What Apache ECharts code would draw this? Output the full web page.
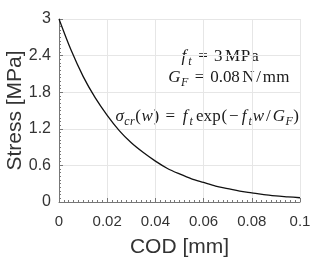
<!DOCTYPE html>
<html><head><meta charset="utf-8">
<script src="https://cdn.jsdelivr.net/npm/echarts@6/dist/echarts.min.js"></script>
<style>html,body{margin:0;padding:0;background:#fff}#c{width:332px;height:257px}</style>
</head><body><div id="c"></div>
<script>
const codValues = [0, 0.005, 0.01, 0.015, 0.02, 0.025, 0.03, 0.035, 0.04, 0.045, 0.05, 0.055, 0.06, 0.065, 0.07, 0.075, 0.08, 0.085, 0.09, 0.095, 0.1];
const stressValues = [3.0, 2.49, 2.06, 1.71, 1.42, 1.17, 0.97, 0.81, 0.67, 0.55, 0.46, 0.38, 0.32, 0.26, 0.22, 0.18, 0.15, 0.12, 0.10, 0.085, 0.07];
const xTicks = [0, 0.02, 0.04, 0.06, 0.08, 0.1];
const yTicks = [0, 0.6, 1.2, 1.8, 2.4, 3];
const xName = 'COD [mm]';
const yName = 'Stress [MPa]';

const serif = '"Liberation Serif", "DejaVu Serif", serif';
// advance widths (em) in the style of TeX math fonts
const adv = {f: 0.47, t: 0.40, G: 0.79, F: 0.68, 'σ': 0.58, c: 0.45, r: 0.47, w: 0.72, '(': 0.39, ')': 0.39,
  '=': 0.78, '−': 0.78, '/': 0.5, '3': 0.5, '0': 0.5, '8': 0.5, '.': 0.28, M: 0.92, P: 0.68, a: 0.5,
  N: 0.75, m: 0.83, e: 0.44, x: 0.53, p: 0.56};
// tokens: [text, kind] kind: n normal, i italic, s subscript, g gap (em)
function mathText(tokens, x, y, em, glyph) {
  const els = [];
  let cx = x;
  tokens.forEach(([t, k]) => {
    if (k === 'g') { cx += t * em; return; }
    const italic = k === 'i' || k === 's';
    const scale = k === 's' ? 0.7 : 1;
    const dy = k === 's' ? em * 0.3 : 0;
    for (const ch of t) {
      const a = (adv[ch] || 0.5) * em * scale;
      els.push({type: 'text', x: cx + a / 2, y: y + dy, silent: true,
        style: {text: ch, fontFamily: serif, fontSize: Math.round(glyph * scale), fontStyle: italic ? 'italic' : 'normal',
          fill: '#1a1a1a', verticalAlign: 'middle', align: 'center'}});
      cx += a;
    }
  });
  return els;
}
const EM = 16.3, GLYPH = 17;
const eq = [[0.28, 'g'], ['=', 'n'], [0.28, 'g']];
const line1 = [['f', 'i'], ['t', 's'], ...eq, ['3', 'n'], [0.17, 'g'], ['MPa', 'n']];
const line2 = [['G', 'i'], ['F', 's'], ...eq, ['0.08', 'n'], [0.17, 'g'], ['N/mm', 'n']];
const line3 = [['σ', 'i'], ['cr', 's'], ['(', 'n'], ['w', 'i'], [')', 'n'], ...eq, ['f', 'i'], ['t', 's'], [0.17, 'g'],
  ['exp(', 'n'], ['−', 'n'], ['f', 'i'], ['t', 's'], ['w', 'i'], ['/', 'n'], ['G', 'i'], ['F', 's'], [')', 'n']];

const chart = echarts.init(document.getElementById('c'), null, {renderer: 'canvas'});
const axisCol = '#777';
const labCol = '#333';
chart.setOption({
  animation: false,
  grid: {left: 59, right: 32, top: 19, bottom: 55, outerBoundsMode: 'none', containLabel: false},
  xAxis: {
    type: 'value', min: 0, max: 0.1, interval: 0.02,
    name: xName, nameLocation: 'middle', nameGap: 35, nameMoveOverlap: false,
    nameTextStyle: {fontFamily: 'Liberation Sans, Arial', fontSize: 21, color: labCol},
    axisLine: {show: true, lineStyle: {color: axisCol, width: 1}},
    axisTick: {show: true, inside: true, length: 4, lineStyle: {color: axisCol}},
    minorTick: {show: true, splitNumber: 10, length: 2, lineStyle: {color: axisCol}},
    axisLabel: {fontFamily: 'Liberation Sans, Arial', fontSize: 15, color: labCol, margin: 12,
      formatter: v => String(xTicks.find(t => Math.abs(t - v) < 1e-9) ?? v)},
    splitLine: {show: true, lineStyle: {color: '#e6e6e6'}}
  },
  yAxis: {
    type: 'value', min: 0, max: 3, interval: 0.6,
    name: yName, nameLocation: 'middle', nameGap: 33, nameRotate: 90, nameMoveOverlap: false,
    nameTextStyle: {fontFamily: 'Liberation Sans, Arial', fontSize: 21, color: labCol},
    axisLine: {show: true, lineStyle: {color: axisCol, width: 1}},
    axisTick: {show: true, inside: true, length: 4, lineStyle: {color: axisCol}},
    minorTick: {show: true, splitNumber: 10, length: 2, lineStyle: {color: axisCol}},
    axisLabel: {fontFamily: 'Liberation Sans, Arial', fontSize: 16, color: labCol, margin: 8,
      formatter: v => String(yTicks.find(t => Math.abs(t - v) < 1e-9) ?? v)},
    splitLine: {show: true, lineStyle: {color: '#e6e6e6'}}
  },
  series: [{
    type: 'line', data: codValues.map((w, k) => [w, stressValues[k]]),
    smooth: 0.3, showSymbol: false, lineStyle: {color: '#111', width: 1.3}
  }],
  graphic: [
    ...mathText(line1, 180, 57, EM, GLYPH),
    ...mathText(line2, 168, 78, EM, GLYPH),
    ...mathText(line3, 115, 117, EM, GLYPH)
  ]
});
</script></body></html>
